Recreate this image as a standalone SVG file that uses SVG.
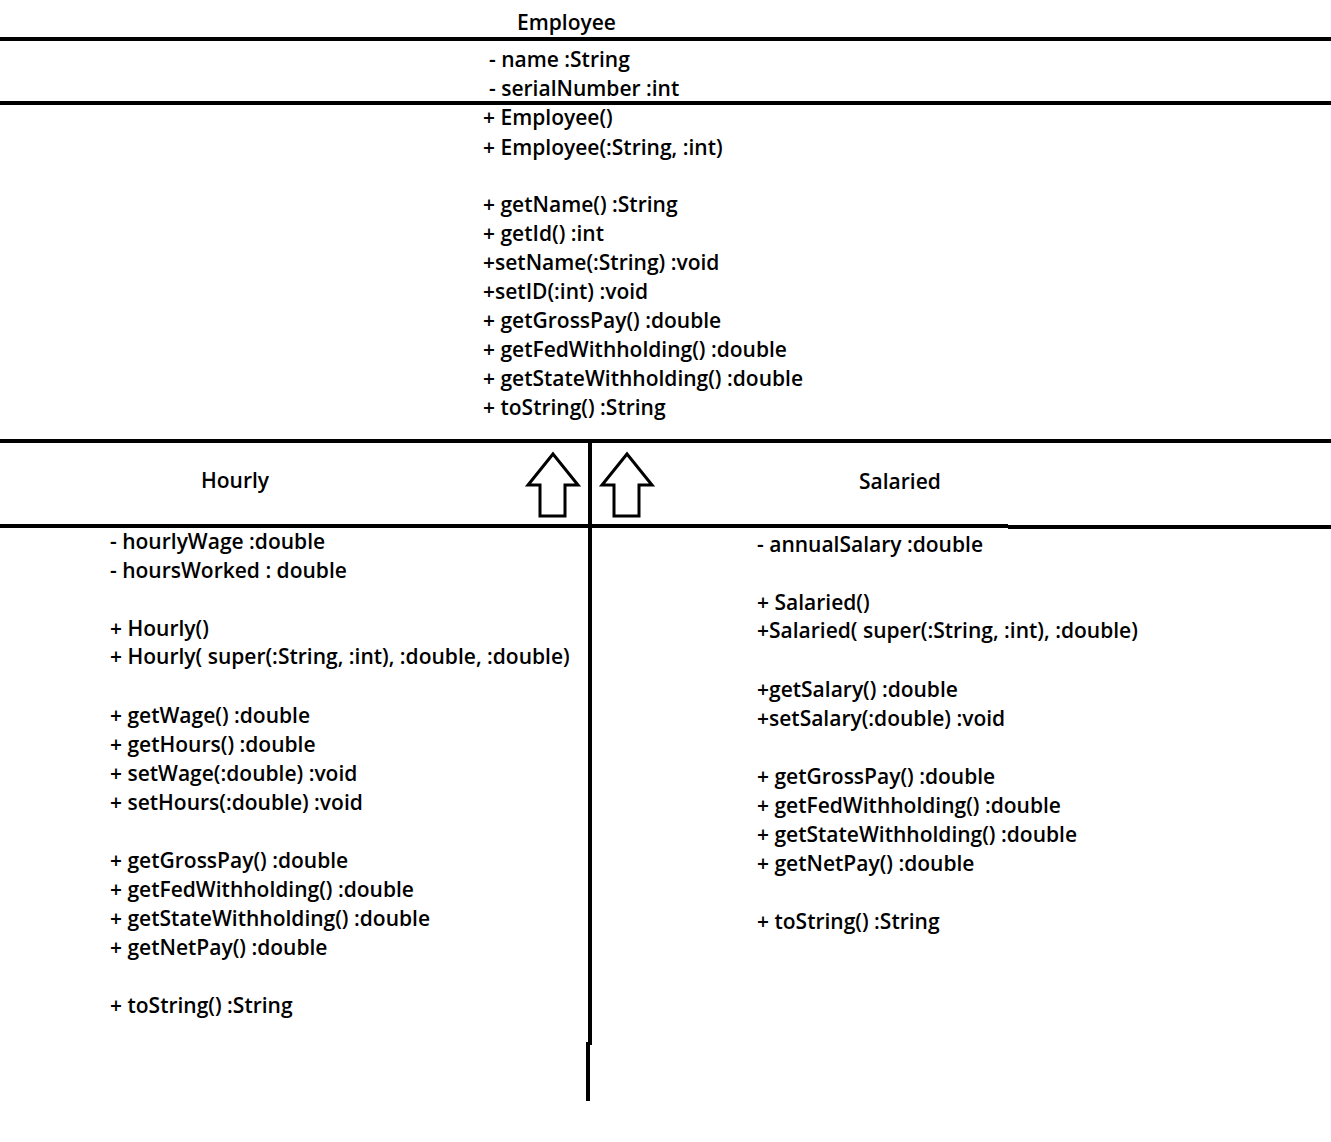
<svg xmlns="http://www.w3.org/2000/svg" width="1331" height="1142" viewBox="0 0 1331 1142">
<style>
text{font-family:"Open Sans","Liberation Sans",sans-serif;font-weight:600;font-size:21px;fill:#000}
.ln{stroke:#000;stroke-width:4;fill:none}
.ar{stroke:#000;stroke-width:3;fill:#fff;stroke-linejoin:miter}
</style>
<rect width="1331" height="1142" fill="#fff"/>
<g id="employee">
<line class="ln" x1="0" y1="39" x2="1331" y2="39"/>
<line class="ln" x1="0" y1="103" x2="1331" y2="103"/>
<text x="517" y="30">Employee</text>
<text x="489" y="67">- name :String</text>
<text x="489" y="96">- serialNumber :int</text>
<text x="483" y="125">+ Employee()</text>
<text x="483" y="155">+ Employee(:String, :int)</text>
<text x="483" y="212">+ getName() :String</text>
<text x="483" y="241">+ getId() :int</text>
<text x="483" y="270">+setName(:String) :void</text>
<text x="483" y="299">+setID(:int) :void</text>
<text x="483" y="328">+ getGrossPay() :double</text>
<text x="483" y="357">+ getFedWithholding() :double</text>
<text x="483" y="386">+ getStateWithholding() :double</text>
<text x="483" y="415">+ toString() :String</text>
</g>
<g id="hourly">
<line class="ln" x1="0" y1="441" x2="1331" y2="441"/>
<line class="ln" x1="0" y1="526" x2="590" y2="526"/>
<text x="201" y="488">Hourly</text>
<text x="110" y="549">- hourlyWage :double</text>
<text x="110" y="578">- hoursWorked : double</text>
<text x="110" y="636">+ Hourly()</text>
<text x="110" y="664">+ Hourly( super(:String, :int), :double, :double)</text>
<text x="110" y="723">+ getWage() :double</text>
<text x="110" y="752">+ getHours() :double</text>
<text x="110" y="781">+ setWage(:double) :void</text>
<text x="110" y="810">+ setHours(:double) :void</text>
<text x="110" y="868">+ getGrossPay() :double</text>
<text x="110" y="897">+ getFedWithholding() :double</text>
<text x="110" y="926">+ getStateWithholding() :double</text>
<text x="110" y="955">+ getNetPay() :double</text>
<text x="110" y="1013">+ toString() :String</text>
</g>
<g id="salaried">
<line class="ln" x1="590" y1="526" x2="1008" y2="526"/>
<line class="ln" x1="1008" y1="527" x2="1331" y2="527"/>
<text x="859" y="489">Salaried</text>
<text x="757" y="552">- annualSalary :double</text>
<text x="757" y="610">+ Salaried()</text>
<text x="757" y="638">+Salaried( super(:String, :int), :double)</text>
<text x="757" y="697">+getSalary() :double</text>
<text x="757" y="726">+setSalary(:double) :void</text>
<text x="757" y="784">+ getGrossPay() :double</text>
<text x="757" y="813">+ getFedWithholding() :double</text>
<text x="757" y="842">+ getStateWithholding() :double</text>
<text x="757" y="871">+ getNetPay() :double</text>
<text x="757" y="929">+ toString() :String</text>
</g>
<g id="connectors">
<line class="ln" x1="590" y1="443" x2="590" y2="1045"/>
<line class="ln" x1="588" y1="1042" x2="588" y2="1101"/>
<polygon class="ar" points="553,454 578,485 565,485 565,516 540,516 540,485 528,485"/>
<polygon class="ar" points="627,454 652,485 639,485 639,516 614,516 614,485 602,485"/>
</g>
</svg>
